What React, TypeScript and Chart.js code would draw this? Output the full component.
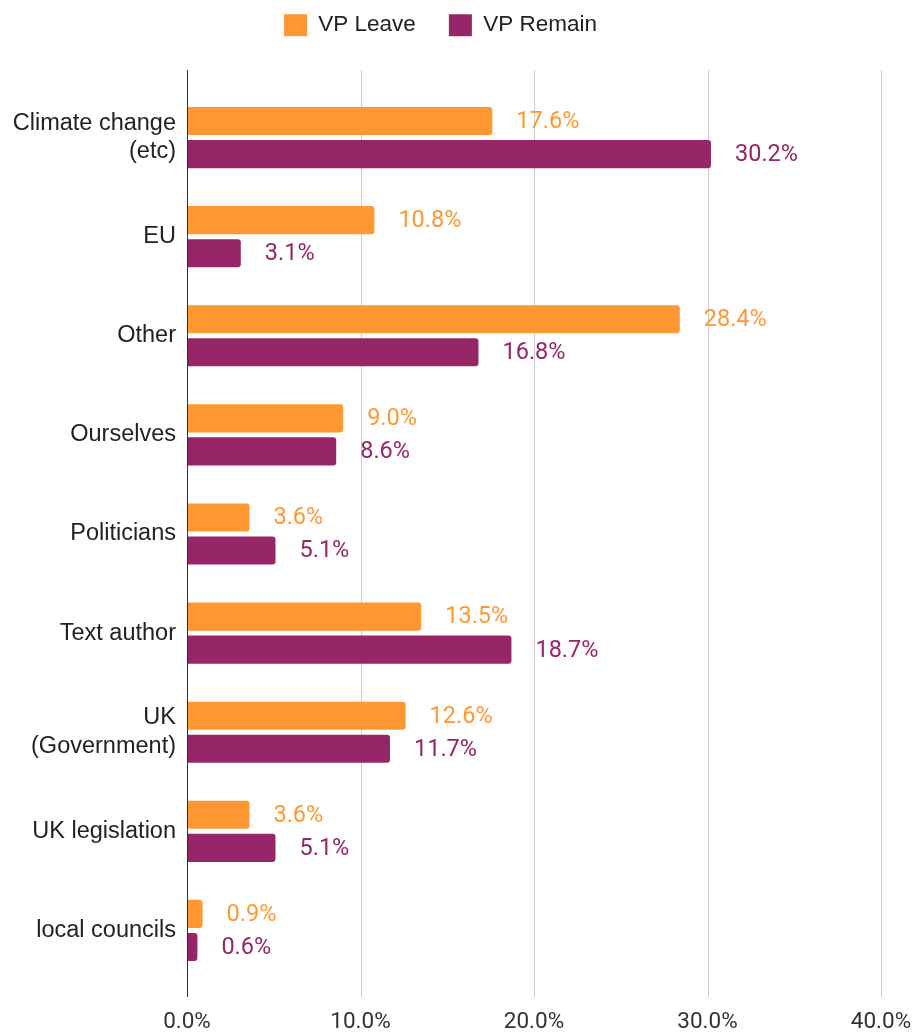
import React, { useEffect, useRef } from "react";
import { Chart, registerables } from "chart.js";

Chart.register(...registerables);

const categories: (string | string[])[] = [
  ["Climate change", "(etc)"],
  "EU",
  "Other",
  "Ourselves",
  "Politicians",
  "Text author",
  ["UK", "(Government)"],
  "UK legislation",
  "local councils",
];
const seriesNames = ["VP Leave", "VP Remain"];
const vpLeave = [17.6, 10.8, 28.4, 9.0, 3.6, 13.5, 12.6, 3.6, 0.9];
const vpRemain = [30.2, 3.1, 16.8, 8.6, 5.1, 18.7, 11.7, 5.1, 0.6];
const xTicks = [0, 10, 20, 30, 40];

const ORANGE = "#ff9833";
const PURPLE = "#962667";
const ROBOTO = "Roboto, 'Liberation Sans', Arial, sans-serif";
const ARIAL = "'Liberation Sans', Arial, sans-serif";

export default function App() {
  const ref = useRef<HTMLCanvasElement | null>(null);

  useEffect(() => {
    if (!ref.current) return;
    const EXT_TOP = 18;
    const EXT_BOTTOM = 17;
    const LEGEND_PAD = 33;

    const gridPlugin = {
      id: "customGrid",
      beforeLayout(chart: any) {
        const lg = chart.legend;
        if (lg && !lg._patched) {
          const f = lg.fit;
          lg.fit = function () {
            f.call(this);
            this.height = 88 + LEGEND_PAD - 14;
          };
          lg._patched = true;
        }
      },
      beforeDatasetsDraw(chart: any) {
        const { ctx, chartArea, scales } = chart;
        const xs = scales.x;
        ctx.save();
        ctx.strokeStyle = "#cccccc";
        ctx.lineWidth = 1;
        xTicks.forEach((v) => {
          if (v === 0) return;
          const x = Math.round(xs.getPixelForValue(v)) + 0.5;
          ctx.beginPath();
          ctx.moveTo(x, chartArea.top - EXT_TOP);
          ctx.lineTo(x, chartArea.bottom + EXT_BOTTOM);
          ctx.stroke();
        });
        ctx.restore();
      },
      afterDatasetsDraw(chart: any) {
        const { ctx, chartArea, scales } = chart;
        const xs = scales.x;
        ctx.save();
        const x0 = Math.round(xs.getPixelForValue(0)) + 0.5;
        ctx.strokeStyle = "#333333";
        ctx.lineWidth = 1;
        ctx.beginPath();
        ctx.moveTo(x0, chartArea.top - EXT_TOP);
        ctx.lineTo(x0, chartArea.bottom + EXT_BOTTOM);
        ctx.stroke();
        ctx.font = `23.5px ${ROBOTO}`;
        ctx.textAlign = "left";
        ctx.textBaseline = "middle";
        chart.data.datasets.forEach((ds: any, i: number) => {
          const meta = chart.getDatasetMeta(i);
          ctx.fillStyle = ds.backgroundColor;
          meta.data.forEach((bar: any, j: number) => {
            const v = ds.data[j];
            ctx.fillText(v.toFixed(1) + "%", bar.x + 24, bar.y + 1);
          });
        });
        ctx.restore();
      },
    };

    const chart = new Chart(ref.current, {
      type: "bar",
      data: {
        labels: categories,
        datasets: [
          {
            label: seriesNames[0],
            data: vpLeave,
            backgroundColor: ORANGE,
            borderRadius: 3,
            borderSkipped: "start",
            categoryPercentage: 0.667,
            barPercentage: 0.85,
          },
          {
            label: seriesNames[1],
            data: vpRemain,
            backgroundColor: PURPLE,
            borderRadius: 3,
            borderSkipped: "start",
            categoryPercentage: 0.667,
            barPercentage: 0.85,
          },
        ],
      },
      options: {
        indexAxis: "y",
        responsive: false,
        animation: false,
        devicePixelRatio: 1,
        layout: { padding: { top: 14 - LEGEND_PAD, right: 38, left: 0, bottom: 0 } },
        plugins: {
          legend: {
            position: "top",
            labels: {
              boxWidth: 23,
              boxHeight: 22,
              padding: LEGEND_PAD,
              color: "#222222",
              font: { family: ARIAL, size: 22.5 },
            },
          },
          tooltip: { enabled: false },
        },
        scales: {
          x: {
            type: "linear",
            min: 0,
            max: 40,
            grid: { display: false, drawTicks: false },
            border: { display: false },
            afterFit(scale: any) {
              scale.height = 54;
              scale.paddingRight = 0;
              scale.paddingLeft = 0;
            },
            afterBuildTicks(scale: any) {
              scale.ticks = xTicks.map((v) => ({ value: v }));
            },
            ticks: {
              padding: 29,
              color: "#333333",
              font: { family: ROBOTO, size: 22.5 },
              callback: (v: any) => Number(v).toFixed(1) + "%",
            },
          },
          y: {
            type: "category",
            grid: { display: false, drawTicks: false },
            border: { display: false },
            afterFit(scale: any) {
              scale.width = 187;
            },
            ticks: {
              padding: 11,
              color: "#222222",
              font: { family: ARIAL, size: 23.5, lineHeight: 1.22 },
            },
          },
        },
      },
      plugins: [gridPlugin],
    } as any);

    return () => chart.destroy();
  }, []);

  return (
    <div style={{ position: "fixed", left: 0, top: 0, width: 919, height: 1034, background: "#fff" }}>
      <canvas ref={ref} width={919} height={1034} />
    </div>
  );
}
